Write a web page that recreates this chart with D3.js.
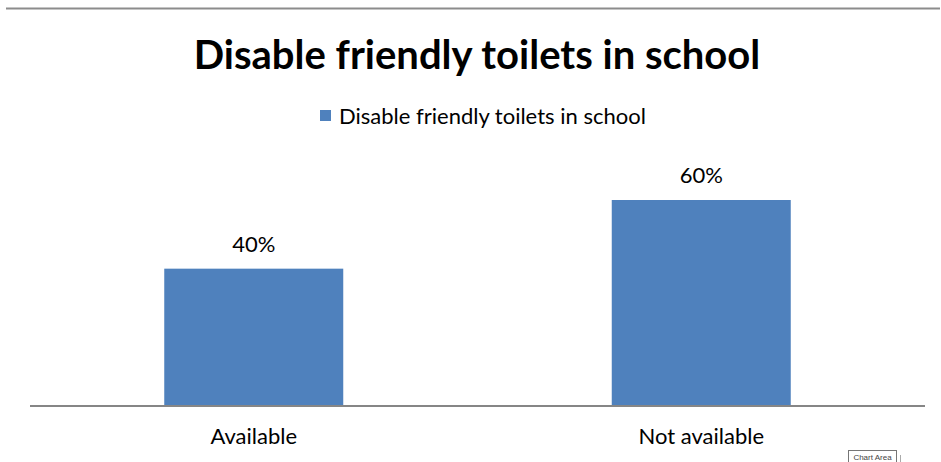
<!DOCTYPE html>
<html><head><meta charset="utf-8">
<script src="https://cdn.jsdelivr.net/npm/d3@7"></script>
<style>body{margin:0;background:#fff}svg{display:block}</style>
</head><body>
<svg id="c" width="941" height="462"></svg>
<script>
const categories = ["Available", "Not available"];
const values = [0.40, 0.60];
const seriesName = "Disable friendly toilets in school";
const titleText = "Disable friendly toilets in school";

const svg = d3.select("#c");
const W = 941, H = 462;
const font = "Lato, Carlito, Calibri, sans-serif";
const barColor = "#4F81BD";

// top border line
svg.append("line").attr("x1", 6).attr("x2", 940).attr("y1", 8.5).attr("y2", 8.5)
  .attr("stroke", "#8c8c8c").attr("stroke-width", 2);

const x = d3.scaleBand().domain(categories).range([30, 925]).paddingInner(0.6).paddingOuter(0.3);
const y = d3.scaleLinear().domain([0, 0.6]).range([406, 200]);

svg.append("text").attr("x", 477).attr("y", 69).attr("text-anchor", "middle")
  .attr("font-family", font).attr("font-weight", "bold").attr("font-size", 40).attr("fill", "#000")
  .text(titleText);

// legend
svg.append("rect").attr("x", 320).attr("y", 110).attr("width", 11).attr("height", 11).attr("fill", barColor);
svg.append("text").attr("x", 339).attr("y", 124).attr("font-family", font).attr("font-size", 22).attr("fill", "#000")
  .text(seriesName);

svg.selectAll(".bar").data(values).join("rect").attr("class", "bar")
  .attr("x", (d, i) => x(categories[i])).attr("width", x.bandwidth())
  .attr("y", d => y(d)).attr("height", d => y(0) - y(d)).attr("fill", barColor);

svg.selectAll(".lbl").data(values).join("text").attr("class", "lbl")
  .attr("x", (d, i) => x(categories[i]) + x.bandwidth() / 2).attr("y", d => y(d) - 17)
  .attr("text-anchor", "middle").attr("font-family", font).attr("font-size", 22).attr("fill", "#000")
  .text(d => d3.format(".0%")(d));

// axis
const ax = svg.append("g").attr("transform", "translate(0,406)")
  .call(d3.axisBottom(x).tickSize(0).tickPadding(22));
ax.select(".domain").attr("stroke", "#868686").attr("stroke-width", 2).attr("d", "M30,0H925");
ax.selectAll("text").attr("font-family", font).attr("font-size", 22).attr("fill", "#000");

// "Chart Area" tooltip
svg.append("rect").attr("x", 848.5).attr("y", 450.5).attr("width", 48).attr("height", 13)
  .attr("fill", "#fff").attr("stroke", "#767676");
svg.append("text").attr("x", 872.5).attr("y", 460).attr("text-anchor", "middle")
  .attr("font-family", "Liberation Sans, Arial, sans-serif").attr("font-size", 8).attr("fill", "#444").text("Chart Area");
svg.append("line").attr("x1", 900.5).attr("x2", 900.5).attr("y1", 455).attr("y2", 462).attr("stroke", "#aaa");
</script>
</body></html>
